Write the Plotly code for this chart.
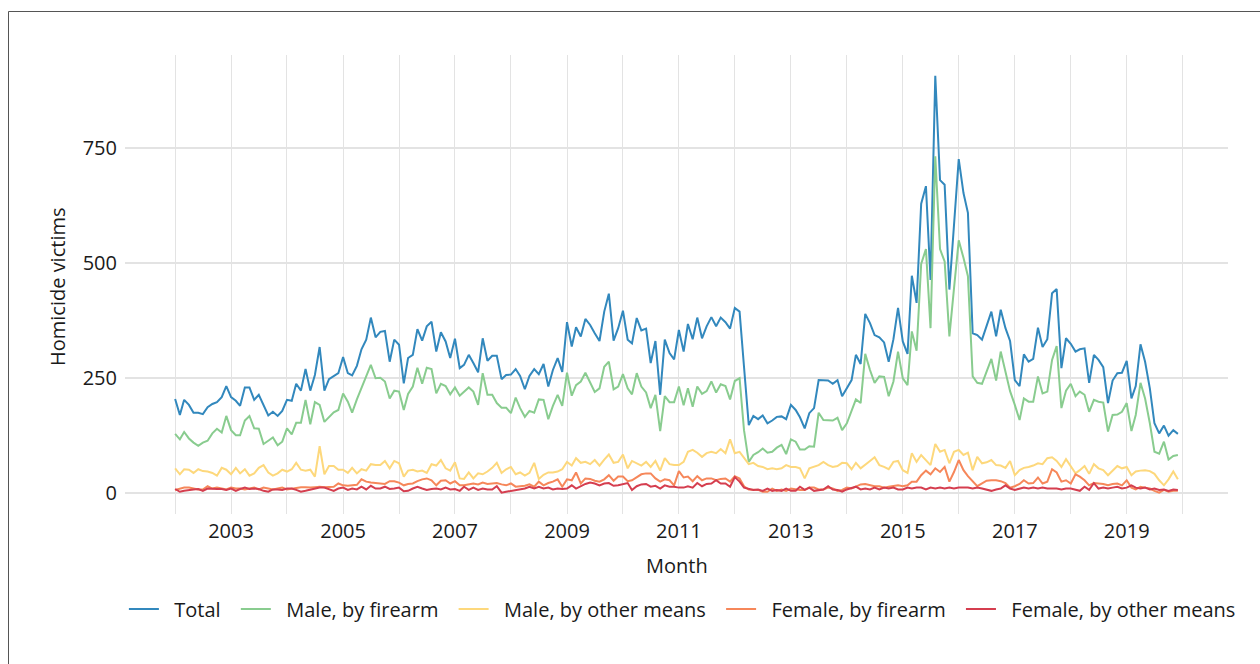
import pandas as pd
import plotly.graph_objects as go

months = pd.date_range("2002-01-01", "2019-12-01", freq="MS")

total = [
    205, 170, 203, 192, 175, 175, 172, 187, 194, 198, 209, 233,
    209, 201, 190, 230, 230, 203, 214, 190, 169, 177, 168, 179,
    203, 201, 238, 223, 270, 223, 257, 318, 223, 248, 254, 261,
    296, 261, 256, 277, 313, 334, 382, 339, 351, 353, 286, 334,
    323, 239, 294, 301, 357, 332, 363, 373, 308, 350, 330, 294,
    336, 272, 279, 301, 283, 263, 337, 288, 299, 299, 248, 257,
    258, 270, 255, 226, 255, 270, 259, 281, 232, 268, 294, 264,
    372, 319, 361, 341, 379, 366, 348, 331, 395, 434, 332, 359,
    397, 334, 326, 381, 354, 358, 283, 331, 214, 334, 305, 291,
    355, 308, 368, 335, 382, 337, 363, 383, 363, 382, 372, 358,
    403, 395, 275, 148, 168, 161, 169, 152, 158, 166, 167, 161,
    192, 181, 165, 141, 174, 185, 246, 245, 245, 238, 246, 211,
    228, 246, 301, 281, 390, 370, 344, 339, 328, 286, 335, 403,
    330, 303, 473, 414, 630, 668, 464, 908, 681, 671, 443, 585,
    727, 653, 610, 348, 344, 334, 366, 395, 341, 399, 359, 331,
    246, 233, 302, 286, 292, 360, 318, 335, 435, 444, 272, 337,
    325, 308, 313, 315, 240, 301, 290, 274, 196, 245, 261, 262,
    288, 206, 233, 324, 286, 228, 152, 130, 147, 125, 137, 129,
]

male_firearm = [
    129, 117, 133, 119, 110, 103, 110, 114, 130, 140, 132, 168,
    137, 126, 126, 158, 168, 141, 140, 107, 114, 121, 104, 112,
    141, 128, 153, 153, 203, 150, 198, 192, 155, 165, 176, 181,
    217, 199, 175, 204, 228, 254, 279, 250, 251, 243, 206, 223,
    221, 181, 216, 232, 273, 238, 273, 270, 217, 238, 233, 215,
    230, 212, 221, 230, 221, 192, 261, 214, 214, 196, 186, 186,
    174, 208, 185, 166, 179, 175, 204, 203, 161, 190, 214, 190,
    262, 212, 235, 243, 262, 241, 220, 228, 275, 286, 226, 232,
    259, 228, 215, 261, 232, 219, 185, 214, 135, 211, 198, 198,
    232, 191, 228, 188, 232, 216, 222, 243, 219, 237, 233, 204,
    244, 250, 137, 68, 83, 89, 97, 88, 90, 99, 105, 85,
    117, 112, 95, 95, 102, 101, 175, 159, 159, 158, 164, 137,
    152, 181, 204, 196, 303, 268, 240, 254, 253, 211, 243, 308,
    250, 235, 352, 310, 499, 531, 359, 733, 531, 504, 341, 445,
    550, 512, 472, 254, 240, 238, 264, 292, 245, 308, 264, 222,
    192, 159, 206, 199, 199, 254, 217, 221, 290, 320, 185, 223,
    238, 211, 221, 214, 177, 203, 199, 197, 134, 170, 171, 177,
    196, 135, 170, 240, 206, 152, 90, 86, 112, 73, 81, 83,
]

male_other = [
    54, 41, 52, 51, 44, 52, 48, 47, 44, 38, 55, 51,
    41, 55, 43, 52, 38, 43, 55, 61, 45, 38, 43, 51,
    47, 52, 66, 51, 49, 51, 36, 102, 41, 59, 59, 51,
    51, 44, 55, 43, 52, 49, 63, 61, 61, 70, 54, 70,
    65, 36, 49, 51, 47, 49, 44, 63, 60, 72, 54, 49,
    67, 32, 31, 45, 32, 43, 41, 47, 55, 66, 44, 52,
    57, 41, 45, 38, 44, 66, 31, 40, 45, 45, 47, 52,
    68, 60, 76, 66, 68, 63, 72, 60, 73, 84, 66, 68,
    84, 54, 70, 65, 60, 68, 57, 70, 49, 76, 63, 61,
    61, 68, 90, 94, 88, 79, 87, 90, 87, 96, 87, 117,
    87, 90, 76, 63, 66, 59, 57, 52, 54, 52, 54, 61,
    57, 57, 54, 32, 54, 57, 61, 68, 61, 57, 59, 66,
    65, 52, 66, 54, 61, 70, 78, 61, 57, 52, 68, 70,
    50, 44, 87, 68, 83, 72, 61, 107, 90, 94, 65, 90,
    94, 83, 88, 50, 79, 65, 67, 72, 61, 60, 55, 70,
    39, 50, 55, 57, 60, 65, 63, 76, 78, 70, 57, 74,
    59, 43, 50, 59, 42, 63, 54, 50, 39, 50, 59, 54,
    57, 39, 47, 49, 50, 48, 42, 28, 17, 30, 47, 30,
]

female_firearm = [
    7, 9, 12, 12, 10, 8, 8, 15, 10, 12, 10, 8,
    12, 10, 10, 8, 10, 12, 8, 12, 10, 8, 10, 12,
    8, 10, 12, 13, 13, 12, 13, 14, 13, 14, 14, 21,
    17, 16, 17, 18, 30, 25, 23, 22, 21, 20, 26, 26,
    23, 17, 20, 21, 26, 30, 32, 28, 17, 27, 28, 21,
    26, 17, 17, 19, 21, 19, 23, 20, 21, 22, 19, 17,
    21, 14, 15, 16, 19, 14, 25, 17, 22, 25, 30, 14,
    30, 28, 45, 21, 32, 31, 27, 25, 30, 39, 27, 36,
    36, 26, 28, 34, 41, 43, 43, 32, 25, 30, 28, 17,
    48, 34, 36, 26, 37, 28, 32, 32, 28, 31, 32, 25,
    37, 32, 15, 8, 7, 7, 3, 3, 10, 5, 8, 5,
    10, 8, 7, 7, 12, 12, 8, 8, 12, 10, 5, 7,
    12, 10, 15, 19, 20, 17, 15, 15, 12, 14, 15, 17,
    15, 17, 25, 25, 39, 49, 41, 54, 46, 57, 25, 46,
    72, 50, 37, 25, 15, 21, 27, 28, 28, 26, 22, 12,
    15, 20, 28, 21, 22, 34, 21, 25, 52, 45, 25, 28,
    21, 41, 36, 28, 17, 22, 21, 20, 17, 20, 21, 17,
    28, 12, 8, 14, 12, 10, 5, 1, 7, 3, 5, 5,
]

female_other = [
    9, 3, 5, 7, 8, 9, 5, 10, 9, 9, 9, 7,
    10, 5, 9, 12, 9, 10, 9, 5, 3, 8, 8, 7,
    10, 10, 7, 3, 5, 7, 10, 12, 12, 8, 5, 10,
    12, 7, 10, 8, 14, 8, 16, 10, 10, 14, 9, 10,
    12, 4, 5, 10, 14, 10, 7, 9, 10, 8, 12, 8,
    9, 5, 14, 7, 12, 7, 10, 8, 8, 15, 1, 3,
    5, 7, 9, 10, 14, 10, 14, 10, 12, 8, 10, 9,
    10, 17, 10, 15, 20, 23, 21, 17, 21, 22, 16, 17,
    20, 22, 7, 15, 19, 20, 14, 16, 10, 17, 14, 14,
    12, 12, 15, 12, 22, 15, 20, 21, 28, 21, 21, 14,
    35, 25, 12, 10, 7, 8, 5, 10, 5, 7, 5, 10,
    5, 5, 14, 7, 12, 5, 7, 8, 15, 8, 7, 3,
    8, 12, 14, 8, 10, 8, 12, 8, 12, 10, 12, 8,
    8, 12, 10, 12, 12, 8, 12, 10, 12, 10, 12, 10,
    12, 12, 12, 10, 12, 10, 8, 5, 8, 10, 17, 10,
    7, 10, 12, 10, 12, 10, 12, 10, 10, 10, 8, 10,
    10, 8, 5, 14, 7, 22, 10, 12, 10, 12, 14, 10,
    12, 17, 12, 10, 12, 8, 10, 7, 8, 5, 8, 7,
]

series_names = ["Total", "Male, by firearm", "Male, by other means",
                "Female, by firearm", "Female, by other means"]
series_values = [total, male_firearm, male_other, female_firearm, female_other]
series_colors = ["#3288bd", "#89cc8f", "#fdd87c", "#f6875a", "#d53e4f"]

year_ticks = [f"{y}-01-01" for y in range(2002, 2021)]
year_labels = [str(y) if y % 2 == 1 else "" for y in range(2002, 2021)]
y_ticks = [0, 250, 500, 750]

FONT = "Open Sans"
TXT = "#1a1a1a"
FS = 20

fig = go.Figure()
n_series = len(series_names)
for k, (name, vals, col) in enumerate(zip(series_names, series_values, series_colors)):
    pad_right = "\u00a0\u2005" if k < n_series - 1 else ""
    fig.add_trace(go.Scatter(x=months, y=vals, mode="lines",
                             name="\u00a0\u00a0" + name + pad_right,
                             line=dict(color=col, width=2)))

L, R, T, B = 125, 32, 55, 150
W, H = 1260, 664
pw, ph = W - L - R, H - T - B

fig.update_layout(
    width=W, height=H,
    margin=dict(l=L, r=R, t=T, b=B, pad=0),
    paper_bgcolor="white", plot_bgcolor="white",
    font=dict(family=FONT, size=FS, color=TXT),
    showlegend=True,
    legend=dict(orientation="h", xref="paper", yref="paper",
                x=-0.001, xanchor="left",
                y=(T + ph - 609) / ph, yanchor="middle",
                font=dict(family=FONT, size=FS, color=TXT),
                itemwidth=30, tracegroupgap=0),
    xaxis=dict(type="date", range=["2001-02-08", "2020-10-23"],
               tickvals=year_ticks, ticktext=year_labels,
               showgrid=True, gridcolor="#e3e3e3", gridwidth=1.3,
               zeroline=False, showline=False, ticks="",
               tickfont=dict(family=FONT, size=FS, color=TXT),
               ticklabelstandoff=3),
    yaxis=dict(range=[-45.4, 953.4], tickvals=y_ticks,
               showgrid=True, gridcolor="#e3e3e3", gridwidth=1.6,
               zeroline=False, showline=False, ticks="",
               tickfont=dict(family=FONT, size=FS, color=TXT),
               ticklabelstandoff=7),
    annotations=[
        dict(text="Month", xref="paper", yref="paper",
             x=0.5, y=(T + ph - 565) / ph, xanchor="center", yanchor="middle",
             showarrow=False, font=dict(family=FONT, size=FS, color=TXT)),
        dict(text="Homicide victims", xref="paper", yref="paper",
             x=(57 - L) / pw, y=(T + ph - 287) / ph, xanchor="center", yanchor="middle",
             textangle=-90, showarrow=False, font=dict(family=FONT, size=FS, color=TXT)),
    ],
    shapes=[
        dict(type="rect", xref="paper", yref="paper",
             x0=(8.5 - L) / pw, x1=(W + 20 - L) / pw,
             y0=(T + ph - (H + 20)) / ph, y1=(T + ph - 11.5) / ph,
             line=dict(color="#555555", width=1), fillcolor="rgba(0,0,0,0)",
             layer="below"),
    ],
)

fig.write_html("out.html", config={"displayModeBar": False},
               post_script="document.body.style.margin='0';")
